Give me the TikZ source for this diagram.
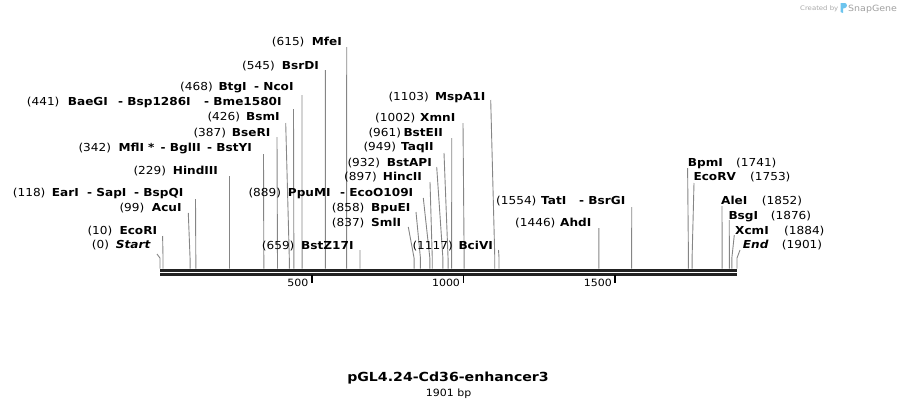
\documentclass[tikz,border=0pt]{standalone}
\usepackage{fontspec}
\newfontfamily\labfont[FakeStretch=1.1]{DejaVu Sans}
\newfontfamily\titfont[FakeStretch=1.13]{DejaVu Sans}
\definecolor{conngray}{HTML}{858585}
\definecolor{mapdark}{HTML}{222222}
\definecolor{logogray}{HTML}{A8A8A8}
\definecolor{logoblue}{HTML}{6CC4EE}
\tikzset{
  num/.style={anchor=base west, inner sep=0pt, font=\labfont\fontsize{11}{13}\selectfont},
  nm/.style={anchor=base west, inner sep=0pt, font=\labfont\bfseries\fontsize{11}{13}\selectfont},
  conn/.style={draw=conngray, line width=0.9pt},
  mapline/.style={draw=mapdark, line width=2.8pt},
  tickmark/.style={draw=black, line width=1.8pt},
  ticklab/.style={anchor=base east, inner sep=0pt, font=\labfont\fontsize{10}{12}\selectfont},
}
% #1 id, #2 baseline, #3 number x, #4 number, #5 name x, #6 name, #7 top x, #8 top y, #9 position (bp)
\newcommand\enz[9]{%
  \node[num] (#1num) at (#3,#2) {#4};
  \node[nm] (#1) at (#5,#2) {#6};
  \coordinate (#1top) at (#7,#8);
  \coordinate (#1bend) at ({160+#9*0.303524},258);
  \coordinate (#1site) at ({160+#9*0.303524},268.6);
  \draw[conn] (#1top) -- (#1bend) -- (#1site);
}
\begin{document}
\begin{tikzpicture}[x=1pt,y=-1pt]
\useasboundingbox (0,0) rectangle (897,408);
% map
\coordinate (mapL) at (160,270.2);
\coordinate (mapR) at (737,270.2);
\coordinate (mapL2) at (160,274.3);
\coordinate (mapR2) at (737,274.3);
\draw[mapline] (mapL) -- (mapR);
\draw[mapline] (mapL2) -- (mapR2);
% ticks
\coordinate (t500a) at (311.8,275.3); \coordinate (t500b) at (311.8,283);
\coordinate (t1000a) at (463.5,275.3); \coordinate (t1000b) at (463.5,283);
\coordinate (t1500a) at (615.3,275.3); \coordinate (t1500b) at (615.3,283);
\draw[tickmark] (t500a) -- (t500b);
\draw[tickmark] (t1000a) -- (t1000b);
\draw[tickmark] (t1500a) -- (t1500b);
\node[ticklab] (l500) at (308.6,286) {500};
\node[ticklab] (l1000) at (460.2,286) {1000};
\node[ticklab] (l1500) at (612,286) {1500};
% left group
\enz{MfeI}{45.7}{271.7}{(615)}{311.7}{MfeI}{346.7}{47}{615}
\enz{BsrDI}{69}{242}{(545)}{281.7}{BsrDI}{325.4}{70}{545}
\enz{BtgI}{90}{180}{(468)}{218.3}{BtgI}{302}{95}{468}
\node[nm] (NcoI) at (254,90) {- NcoI};
\enz{BaeGI}{105.7}{26.7}{(441)}{67.7}{BaeGI}{293.5}{109}{441}
\node[nm] (Bsp1286I) at (118,105.7) {- Bsp1286I};
\node[nm] (Bme1580I) at (204,105.7) {- Bme1580I};
\enz{BsmI}{120.7}{207.3}{(426)}{246}{BsmI}{285.7}{123}{426}
\enz{BseRI}{136.7}{193.3}{(387)}{231.7}{BseRI}{277}{137}{387}
\enz{MflI}{151.7}{78.3}{(342)}{118.3}{MflI *}{263.5}{154}{342}
\node[nm] (BglII) at (160.5,151.7) {- BglII};
\node[nm] (BstYI) at (207,151.7) {- BstYI};
\enz{HindIII}{174}{133.3}{(229)}{172.7}{HindIII}{229.5}{176}{229}
\enz{EarI}{196.7}{12.7}{(118)}{51.7}{EarI}{195.5}{199}{118}
\node[nm] (SapI) at (87,196.7) {- SapI};
\node[nm] (BspQI) at (134,196.7) {- BspQI};
\enz{AcuI}{211}{119.3}{(99)}{151.7}{AcuI}{188.3}{213}{99}
\enz{EcoRI}{234.3}{87.3}{(10)}{119.3}{EcoRI}{162.6}{236}{10}
\enz{Start}{248.3}{91.7}{(0)}{115.7}{\itshape Start}{157}{254}{0}
% middle group
\enz{MspAI}{100}{388.3}{(1103)}{435}{MspA1I}{490.7}{100}{1103}
\enz{XmnI}{121.7}{375}{(1002)}{420}{XmnI}{463}{123}{1002}
\enz{BstEII}{136}{368.3}{(961)}{403.3}{BstEII}{451.7}{138}{961}
\enz{TaqII}{150.7}{363.3}{(949)}{401}{TaqII}{444}{153}{949}
\enz{BstAPI}{166}{347.3}{(932)}{386.7}{BstAPI}{436.7}{167}{932}
\enz{HincII}{180.7}{344}{(897)}{382.7}{HincII}{430}{182}{897}
\enz{PpuMI}{196}{248.3}{(889)}{287.7}{PpuMI}{423.3}{198}{889}
\node[nm] (EcoOI) at (340,196) {- EcoO109I};
\enz{BpuEI}{211}{331.7}{(858)}{371}{BpuEI}{416}{212}{858}
\enz{SmlI}{226}{331.7}{(837)}{371}{SmlI}{408.3}{227}{837}
\enz{BstZI}{249}{261.7}{(659)}{301}{BstZ17I}{360}{250}{659}
\enz{BciVI}{249}{412.3}{(1117)}{458.3}{BciVI}{498.5}{250}{1117}
% right group
\enz{TatI}{204}{496}{(1554)}{541}{TatI}{631.7}{207}{1554}
\node[nm] (BsrGI) at (579,204) {- BsrGI};
\enz{AhdI}{226}{515}{(1446)}{560}{AhdI}{598.8}{228}{1446}
\enz{BpmI}{166}{736}{(1741)}{687.7}{BpmI}{687.6}{168}{1741}
\enz{EcoRV}{180.7}{750}{(1753)}{693.3}{EcoRV}{694}{183}{1753}
\enz{AleI}{204}{761.7}{(1852)}{721}{AleI}{722}{206}{1852}
\enz{BsgI}{219}{770.7}{(1876)}{728.3}{BsgI}{729.2}{220}{1876}
\enz{XcmI}{234}{784}{(1884)}{735}{XcmI}{734.3}{235}{1884}
\enz{End}{248.3}{781.7}{(1901)}{742.7}{\itshape End}{740}{250}{1901}
% title
\node[anchor=base, inner sep=0pt, font=\titfont\bfseries\fontsize{12.5}{15}\selectfont] (title) at (448,381.7) {pGL4.24-Cd36-enhancer3};
\node[anchor=base, inner sep=0pt, font=\labfont\fontsize{10}{12}\selectfont] (bp) at (448.7,396) {1901 bp};
% logo
\node[anchor=base west, inner sep=0pt, text=logogray, font=\labfont\fontsize{6.3}{7}\selectfont] (created) at (800,10.5) {Created by};
\fill[logoblue] (840.5,3) -- (845,3) .. controls (847.5,3) and (847.5,8) .. (845,8) -- (843,8.5) -- (843,13) -- (840.5,12) -- cycle;
\node[anchor=base west, inner sep=0pt, text=logogray!110, font=\labfont\fontsize{8.6}{10}\selectfont] (snapgene) at (848,11) {SnapGene};
\end{tikzpicture}
\end{document}
